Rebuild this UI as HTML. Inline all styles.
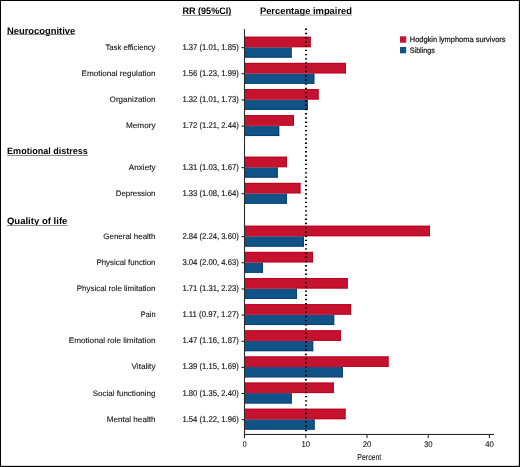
<!DOCTYPE html>
<html><head><meta charset="utf-8"><style>
html,body{margin:0;padding:0;background:#fff;}
#c{position:relative;width:520px;height:467px;box-sizing:border-box;border:1px solid #000;overflow:hidden;background:#fff;}
svg{filter:blur(0.25px);position:absolute;left:-1px;top:-1px;font-family:"Liberation Sans",sans-serif;will-change:transform;text-rendering:geometricPrecision;}
</style></head><body><div id="c">
<svg width="520" height="467" viewBox="0 0 520 467">
<rect x="245.0" y="47.20" width="46.60" height="10.40" fill="#0f5387"/>
<rect x="245.0" y="56.60" width="46.60" height="1" fill="#0a4079"/>
<rect x="290.60" y="47.20" width="1" height="10.40" fill="#0a4079"/>
<rect x="245.0" y="36.75" width="65.65" height="10.45" fill="#c5132f"/>
<rect x="245.0" y="36.75" width="65.65" height="1" fill="#bd0021"/>
<rect x="309.65" y="36.75" width="1" height="10.45" fill="#bd0021"/>
<rect x="245.0" y="46.00" width="46.60" height="1.2" fill="#d10f2b"/>
<rect x="291.60" y="46.20" width="19.05" height="1" fill="#bd0021"/>
<rect x="241.5" y="47.15" width="3" height="1" fill="#141213"/>
<text x="105.40" y="49.70" textLength="50.10" lengthAdjust="spacingAndGlyphs" style="font-size:7.9px;stroke:#141213;stroke-width:0.1px;" fill="#141213" >Task efficiency</text>
<text x="182.40" y="49.70" textLength="56.40" lengthAdjust="spacingAndGlyphs" style="font-size:8.4px;stroke:#141213;stroke-width:0.16px;" fill="#141213" >1.37 (1.01, 1.85)</text>
<rect x="245.0" y="73.34" width="69.30" height="10.40" fill="#0f5387"/>
<rect x="245.0" y="82.74" width="69.30" height="1" fill="#0a4079"/>
<rect x="313.30" y="73.34" width="1" height="10.40" fill="#0a4079"/>
<rect x="245.0" y="62.89" width="101.00" height="10.45" fill="#c5132f"/>
<rect x="245.0" y="62.89" width="101.00" height="1" fill="#bd0021"/>
<rect x="345.00" y="62.89" width="1" height="10.45" fill="#bd0021"/>
<rect x="245.0" y="72.14" width="69.30" height="1.2" fill="#d10f2b"/>
<rect x="314.30" y="72.34" width="31.70" height="1" fill="#bd0021"/>
<rect x="241.5" y="73.29" width="3" height="1" fill="#141213"/>
<text x="81.50" y="75.84" textLength="74.00" lengthAdjust="spacingAndGlyphs" style="font-size:7.9px;stroke:#141213;stroke-width:0.1px;" fill="#141213" >Emotional regulation</text>
<text x="182.40" y="75.84" textLength="56.40" lengthAdjust="spacingAndGlyphs" style="font-size:8.4px;stroke:#141213;stroke-width:0.16px;" fill="#141213" >1.56 (1.23, 1.99)</text>
<rect x="245.0" y="99.49" width="62.90" height="10.40" fill="#0f5387"/>
<rect x="245.0" y="108.89" width="62.90" height="1" fill="#0a4079"/>
<rect x="306.90" y="99.49" width="1" height="10.40" fill="#0a4079"/>
<rect x="245.0" y="89.04" width="73.60" height="10.45" fill="#c5132f"/>
<rect x="245.0" y="89.04" width="73.60" height="1" fill="#bd0021"/>
<rect x="317.60" y="89.04" width="1" height="10.45" fill="#bd0021"/>
<rect x="245.0" y="98.29" width="62.90" height="1.2" fill="#d10f2b"/>
<rect x="307.90" y="98.49" width="10.70" height="1" fill="#bd0021"/>
<rect x="241.5" y="99.44" width="3" height="1" fill="#141213"/>
<text x="109.60" y="101.99" textLength="45.90" lengthAdjust="spacingAndGlyphs" style="font-size:7.9px;stroke:#141213;stroke-width:0.1px;" fill="#141213" >Organization</text>
<text x="182.40" y="101.99" textLength="56.40" lengthAdjust="spacingAndGlyphs" style="font-size:8.4px;stroke:#141213;stroke-width:0.16px;" fill="#141213" >1.32 (1.01, 1.73)</text>
<rect x="245.0" y="125.63" width="34.20" height="10.40" fill="#0f5387"/>
<rect x="245.0" y="135.03" width="34.20" height="1" fill="#0a4079"/>
<rect x="278.20" y="125.63" width="1" height="10.40" fill="#0a4079"/>
<rect x="245.0" y="115.18" width="49.00" height="10.45" fill="#c5132f"/>
<rect x="245.0" y="115.18" width="49.00" height="1" fill="#bd0021"/>
<rect x="293.00" y="115.18" width="1" height="10.45" fill="#bd0021"/>
<rect x="245.0" y="124.43" width="34.20" height="1.2" fill="#d10f2b"/>
<rect x="279.20" y="124.63" width="14.80" height="1" fill="#bd0021"/>
<rect x="241.5" y="125.58" width="3" height="1" fill="#141213"/>
<text x="126.00" y="128.13" textLength="29.50" lengthAdjust="spacingAndGlyphs" style="font-size:7.9px;stroke:#141213;stroke-width:0.1px;" fill="#141213" >Memory</text>
<text x="182.40" y="128.13" textLength="56.40" lengthAdjust="spacingAndGlyphs" style="font-size:8.4px;stroke:#141213;stroke-width:0.16px;" fill="#141213" >1.72 (1.21, 2.44)</text>
<rect x="245.0" y="167.20" width="32.70" height="10.40" fill="#0f5387"/>
<rect x="245.0" y="176.60" width="32.70" height="1" fill="#0a4079"/>
<rect x="276.70" y="167.20" width="1" height="10.40" fill="#0a4079"/>
<rect x="245.0" y="156.75" width="41.90" height="10.45" fill="#c5132f"/>
<rect x="245.0" y="156.75" width="41.90" height="1" fill="#bd0021"/>
<rect x="285.90" y="156.75" width="1" height="10.45" fill="#bd0021"/>
<rect x="245.0" y="166.00" width="32.70" height="1.2" fill="#d10f2b"/>
<rect x="277.70" y="166.20" width="9.20" height="1" fill="#bd0021"/>
<rect x="241.5" y="167.15" width="3" height="1" fill="#141213"/>
<text x="128.80" y="169.70" textLength="26.70" lengthAdjust="spacingAndGlyphs" style="font-size:7.9px;stroke:#141213;stroke-width:0.1px;" fill="#141213" >Anxiety</text>
<text x="182.40" y="169.70" textLength="56.40" lengthAdjust="spacingAndGlyphs" style="font-size:8.4px;stroke:#141213;stroke-width:0.16px;" fill="#141213" >1.31 (1.03, 1.67)</text>
<rect x="245.0" y="193.34" width="41.90" height="10.40" fill="#0f5387"/>
<rect x="245.0" y="202.74" width="41.90" height="1" fill="#0a4079"/>
<rect x="285.90" y="193.34" width="1" height="10.40" fill="#0a4079"/>
<rect x="245.0" y="182.89" width="55.40" height="10.45" fill="#c5132f"/>
<rect x="245.0" y="182.89" width="55.40" height="1" fill="#bd0021"/>
<rect x="299.40" y="182.89" width="1" height="10.45" fill="#bd0021"/>
<rect x="245.0" y="192.14" width="41.90" height="1.2" fill="#d10f2b"/>
<rect x="286.90" y="192.34" width="13.50" height="1" fill="#bd0021"/>
<rect x="241.5" y="193.29" width="3" height="1" fill="#141213"/>
<text x="115.80" y="195.84" textLength="39.70" lengthAdjust="spacingAndGlyphs" style="font-size:7.9px;stroke:#141213;stroke-width:0.1px;" fill="#141213" >Depression</text>
<text x="182.40" y="195.84" textLength="56.40" lengthAdjust="spacingAndGlyphs" style="font-size:8.4px;stroke:#141213;stroke-width:0.16px;" fill="#141213" >1.33 (1.08, 1.64)</text>
<rect x="245.0" y="236.20" width="58.90" height="10.40" fill="#0f5387"/>
<rect x="245.0" y="245.60" width="58.90" height="1" fill="#0a4079"/>
<rect x="302.90" y="236.20" width="1" height="10.40" fill="#0a4079"/>
<rect x="245.0" y="225.75" width="185.00" height="10.45" fill="#c5132f"/>
<rect x="245.0" y="225.75" width="185.00" height="1" fill="#bd0021"/>
<rect x="429.00" y="225.75" width="1" height="10.45" fill="#bd0021"/>
<rect x="245.0" y="235.00" width="58.90" height="1.2" fill="#d10f2b"/>
<rect x="303.90" y="235.20" width="126.10" height="1" fill="#bd0021"/>
<rect x="241.5" y="236.15" width="3" height="1" fill="#141213"/>
<text x="103.30" y="238.70" textLength="52.20" lengthAdjust="spacingAndGlyphs" style="font-size:7.9px;stroke:#141213;stroke-width:0.1px;" fill="#141213" >General health</text>
<text x="182.40" y="238.70" textLength="56.40" lengthAdjust="spacingAndGlyphs" style="font-size:8.4px;stroke:#141213;stroke-width:0.16px;" fill="#141213" >2.84 (2.24, 3.60)</text>
<rect x="245.0" y="262.34" width="17.90" height="10.40" fill="#0f5387"/>
<rect x="245.0" y="271.74" width="17.90" height="1" fill="#0a4079"/>
<rect x="261.90" y="262.34" width="1" height="10.40" fill="#0a4079"/>
<rect x="245.0" y="251.89" width="68.00" height="10.45" fill="#c5132f"/>
<rect x="245.0" y="251.89" width="68.00" height="1" fill="#bd0021"/>
<rect x="312.00" y="251.89" width="1" height="10.45" fill="#bd0021"/>
<rect x="245.0" y="261.14" width="17.90" height="1.2" fill="#d10f2b"/>
<rect x="262.90" y="261.34" width="50.10" height="1" fill="#bd0021"/>
<rect x="241.5" y="262.29" width="3" height="1" fill="#141213"/>
<text x="96.50" y="264.84" textLength="59.00" lengthAdjust="spacingAndGlyphs" style="font-size:7.9px;stroke:#141213;stroke-width:0.1px;" fill="#141213" >Physical function</text>
<text x="182.40" y="264.84" textLength="56.40" lengthAdjust="spacingAndGlyphs" style="font-size:8.4px;stroke:#141213;stroke-width:0.16px;" fill="#141213" >3.04 (2.00, 4.63)</text>
<rect x="245.0" y="288.49" width="52.00" height="10.40" fill="#0f5387"/>
<rect x="245.0" y="297.89" width="52.00" height="1" fill="#0a4079"/>
<rect x="296.00" y="288.49" width="1" height="10.40" fill="#0a4079"/>
<rect x="245.0" y="278.04" width="102.70" height="10.45" fill="#c5132f"/>
<rect x="245.0" y="278.04" width="102.70" height="1" fill="#bd0021"/>
<rect x="346.70" y="278.04" width="1" height="10.45" fill="#bd0021"/>
<rect x="245.0" y="287.29" width="52.00" height="1.2" fill="#d10f2b"/>
<rect x="297.00" y="287.49" width="50.70" height="1" fill="#bd0021"/>
<rect x="241.5" y="288.44" width="3" height="1" fill="#141213"/>
<text x="76.70" y="290.99" textLength="78.80" lengthAdjust="spacingAndGlyphs" style="font-size:7.9px;stroke:#141213;stroke-width:0.1px;" fill="#141213" >Physical role limitation</text>
<text x="182.40" y="290.99" textLength="56.40" lengthAdjust="spacingAndGlyphs" style="font-size:8.4px;stroke:#141213;stroke-width:0.16px;" fill="#141213" >1.71 (1.31, 2.23)</text>
<rect x="245.0" y="314.63" width="89.20" height="10.40" fill="#0f5387"/>
<rect x="245.0" y="324.03" width="89.20" height="1" fill="#0a4079"/>
<rect x="333.20" y="314.63" width="1" height="10.40" fill="#0a4079"/>
<rect x="245.0" y="304.18" width="106.10" height="10.45" fill="#c5132f"/>
<rect x="245.0" y="304.18" width="106.10" height="1" fill="#bd0021"/>
<rect x="350.10" y="304.18" width="1" height="10.45" fill="#bd0021"/>
<rect x="245.0" y="313.43" width="89.20" height="1.2" fill="#d10f2b"/>
<rect x="334.20" y="313.63" width="16.90" height="1" fill="#bd0021"/>
<rect x="241.5" y="314.58" width="3" height="1" fill="#141213"/>
<text x="140.80" y="317.13" textLength="14.70" lengthAdjust="spacingAndGlyphs" style="font-size:7.9px;stroke:#141213;stroke-width:0.1px;" fill="#141213" >Pain</text>
<text x="182.40" y="317.13" textLength="56.40" lengthAdjust="spacingAndGlyphs" style="font-size:8.4px;stroke:#141213;stroke-width:0.16px;" fill="#141213" >1.11 (0.97, 1.27)</text>
<rect x="245.0" y="340.77" width="68.20" height="10.40" fill="#0f5387"/>
<rect x="245.0" y="350.17" width="68.20" height="1" fill="#0a4079"/>
<rect x="312.20" y="340.77" width="1" height="10.40" fill="#0a4079"/>
<rect x="245.0" y="330.32" width="96.00" height="10.45" fill="#c5132f"/>
<rect x="245.0" y="330.32" width="96.00" height="1" fill="#bd0021"/>
<rect x="340.00" y="330.32" width="1" height="10.45" fill="#bd0021"/>
<rect x="245.0" y="339.57" width="68.20" height="1.2" fill="#d10f2b"/>
<rect x="313.20" y="339.77" width="27.80" height="1" fill="#bd0021"/>
<rect x="241.5" y="340.72" width="3" height="1" fill="#141213"/>
<text x="68.70" y="343.27" textLength="86.80" lengthAdjust="spacingAndGlyphs" style="font-size:7.9px;stroke:#141213;stroke-width:0.1px;" fill="#141213" >Emotional role limitation</text>
<text x="182.40" y="343.27" textLength="56.40" lengthAdjust="spacingAndGlyphs" style="font-size:8.4px;stroke:#141213;stroke-width:0.16px;" fill="#141213" >1.47 (1.16, 1.87)</text>
<rect x="245.0" y="366.92" width="97.85" height="10.40" fill="#0f5387"/>
<rect x="245.0" y="376.31" width="97.85" height="1" fill="#0a4079"/>
<rect x="341.85" y="366.92" width="1" height="10.40" fill="#0a4079"/>
<rect x="245.0" y="356.47" width="143.50" height="10.45" fill="#c5132f"/>
<rect x="245.0" y="356.47" width="143.50" height="1" fill="#bd0021"/>
<rect x="387.50" y="356.47" width="1" height="10.45" fill="#bd0021"/>
<rect x="245.0" y="365.72" width="97.85" height="1.2" fill="#d10f2b"/>
<rect x="342.85" y="365.92" width="45.65" height="1" fill="#bd0021"/>
<rect x="241.5" y="366.87" width="3" height="1" fill="#141213"/>
<text x="131.50" y="369.42" textLength="24.00" lengthAdjust="spacingAndGlyphs" style="font-size:7.9px;stroke:#141213;stroke-width:0.1px;" fill="#141213" >Vitality</text>
<text x="182.40" y="369.42" textLength="56.40" lengthAdjust="spacingAndGlyphs" style="font-size:8.4px;stroke:#141213;stroke-width:0.16px;" fill="#141213" >1.39 (1.15, 1.69)</text>
<rect x="245.0" y="393.06" width="46.80" height="10.40" fill="#0f5387"/>
<rect x="245.0" y="402.46" width="46.80" height="1" fill="#0a4079"/>
<rect x="290.80" y="393.06" width="1" height="10.40" fill="#0a4079"/>
<rect x="245.0" y="382.61" width="88.80" height="10.45" fill="#c5132f"/>
<rect x="245.0" y="382.61" width="88.80" height="1" fill="#bd0021"/>
<rect x="332.80" y="382.61" width="1" height="10.45" fill="#bd0021"/>
<rect x="245.0" y="391.86" width="46.80" height="1.2" fill="#d10f2b"/>
<rect x="291.80" y="392.06" width="42.00" height="1" fill="#bd0021"/>
<rect x="241.5" y="393.01" width="3" height="1" fill="#141213"/>
<text x="92.70" y="395.56" textLength="62.80" lengthAdjust="spacingAndGlyphs" style="font-size:7.9px;stroke:#141213;stroke-width:0.1px;" fill="#141213" >Social functioning</text>
<text x="182.40" y="395.56" textLength="56.40" lengthAdjust="spacingAndGlyphs" style="font-size:8.4px;stroke:#141213;stroke-width:0.16px;" fill="#141213" >1.80 (1.35, 2.40)</text>
<rect x="245.0" y="419.20" width="69.60" height="10.40" fill="#0f5387"/>
<rect x="245.0" y="428.60" width="69.60" height="1" fill="#0a4079"/>
<rect x="313.60" y="419.20" width="1" height="10.40" fill="#0a4079"/>
<rect x="245.0" y="408.75" width="100.50" height="10.45" fill="#c5132f"/>
<rect x="245.0" y="408.75" width="100.50" height="1" fill="#bd0021"/>
<rect x="344.50" y="408.75" width="1" height="10.45" fill="#bd0021"/>
<rect x="245.0" y="418.00" width="69.60" height="1.2" fill="#d10f2b"/>
<rect x="314.60" y="418.20" width="30.90" height="1" fill="#bd0021"/>
<rect x="241.5" y="419.15" width="3" height="1" fill="#141213"/>
<text x="106.70" y="421.70" textLength="48.80" lengthAdjust="spacingAndGlyphs" style="font-size:7.9px;stroke:#141213;stroke-width:0.1px;" fill="#141213" >Mental health</text>
<text x="182.40" y="421.70" textLength="56.40" lengthAdjust="spacingAndGlyphs" style="font-size:8.4px;stroke:#141213;stroke-width:0.16px;" fill="#141213" >1.54 (1.22, 1.96)</text>
<rect x="243.95" y="29.2" width="1.1" height="405.8" fill="#2b2b2b"/>
<rect x="243.95" y="433.9" width="250" height="1.1" fill="#2b2b2b"/>
<rect x="244.00" y="435" width="1" height="3" fill="#141213"/>
<rect x="305.30" y="435" width="1" height="3" fill="#141213"/>
<rect x="366.50" y="435" width="1" height="3" fill="#141213"/>
<rect x="427.70" y="435" width="1" height="3" fill="#141213"/>
<rect x="488.90" y="435" width="1" height="3" fill="#141213"/>
<text x="242.70" y="447.20" textLength="3.90" lengthAdjust="spacingAndGlyphs" style="font-size:8.2px;stroke:#141213;stroke-width:0.1px;" fill="#141213" >0</text>
<text x="301.50" y="447.20" textLength="8.60" lengthAdjust="spacingAndGlyphs" style="font-size:8.2px;stroke:#141213;stroke-width:0.1px;" fill="#141213" >10</text>
<text x="362.80" y="447.20" textLength="8.60" lengthAdjust="spacingAndGlyphs" style="font-size:8.2px;stroke:#141213;stroke-width:0.1px;" fill="#141213" >20</text>
<text x="424.00" y="447.20" textLength="8.60" lengthAdjust="spacingAndGlyphs" style="font-size:8.2px;stroke:#141213;stroke-width:0.1px;" fill="#141213" >30</text>
<text x="485.20" y="447.20" textLength="8.60" lengthAdjust="spacingAndGlyphs" style="font-size:8.2px;stroke:#141213;stroke-width:0.1px;" fill="#141213" >40</text>
<text x="357.30" y="459.70" textLength="24.00" lengthAdjust="spacingAndGlyphs" style="font-size:8.6px;stroke:#141213;stroke-width:0.1px;" fill="#141213" >Percent</text>
<line x1="306" y1="28.57" x2="306" y2="431.30" stroke="#000" stroke-width="2.1" stroke-dasharray="1.4 2.823"/>
<text x="6.90" y="33.60" textLength="68.40" lengthAdjust="spacingAndGlyphs" style="font-size:9.4px;font-weight:bold;" fill="#000" >Neurocognitive</text>
<rect x="6.9" y="34.0" width="68.4" height="1" fill="#8a8a8a"/>
<text x="7.10" y="154.40" textLength="80.80" lengthAdjust="spacingAndGlyphs" style="font-size:9.1px;font-weight:bold;" fill="#000" >Emotional distress</text>
<rect x="7.1" y="155.0" width="80.8" height="1" fill="#8a8a8a"/>
<text x="6.90" y="224.40" textLength="60.50" lengthAdjust="spacingAndGlyphs" style="font-size:9.2px;font-weight:bold;" fill="#000" >Quality of life</text>
<rect x="6.9" y="225.0" width="60.5" height="1" fill="#8a8a8a"/>
<text x="182.40" y="13.80" textLength="48.90" lengthAdjust="spacingAndGlyphs" style="font-size:9.4px;font-weight:bold;" fill="#000" >RR (95%CI)</text>
<rect x="182.0" y="14.9" width="49.3" height="1" fill="#8a8a8a"/>
<text x="259.90" y="13.80" textLength="92.10" lengthAdjust="spacingAndGlyphs" style="font-size:9.4px;font-weight:bold;" fill="#000" >Percentage impaired</text>
<rect x="259.9" y="14.6" width="92.1" height="1" fill="#8a8a8a"/>
<rect x="400" y="36.3" width="6.2" height="6.4" fill="#c5132f"/>
<rect x="400" y="47.0" width="6.2" height="6.3" fill="#0f5387"/>
<text x="409.80" y="42.10" textLength="95.70" lengthAdjust="spacingAndGlyphs" style="font-size:7.8px;stroke:#141213;stroke-width:0.22px;" fill="#141213" >Hodgkin lymphoma survivors</text>
<text x="409.80" y="52.75" textLength="25.00" lengthAdjust="spacingAndGlyphs" style="font-size:7.8px;stroke:#141213;stroke-width:0.22px;" fill="#141213" >Siblings</text>
<rect x="518" y="0" width="1" height="467" fill="rgba(0,0,0,0.15)"/>
<rect x="0" y="465" width="520" height="1" fill="rgba(0,0,0,0.15)"/>
</svg></div></body></html>
